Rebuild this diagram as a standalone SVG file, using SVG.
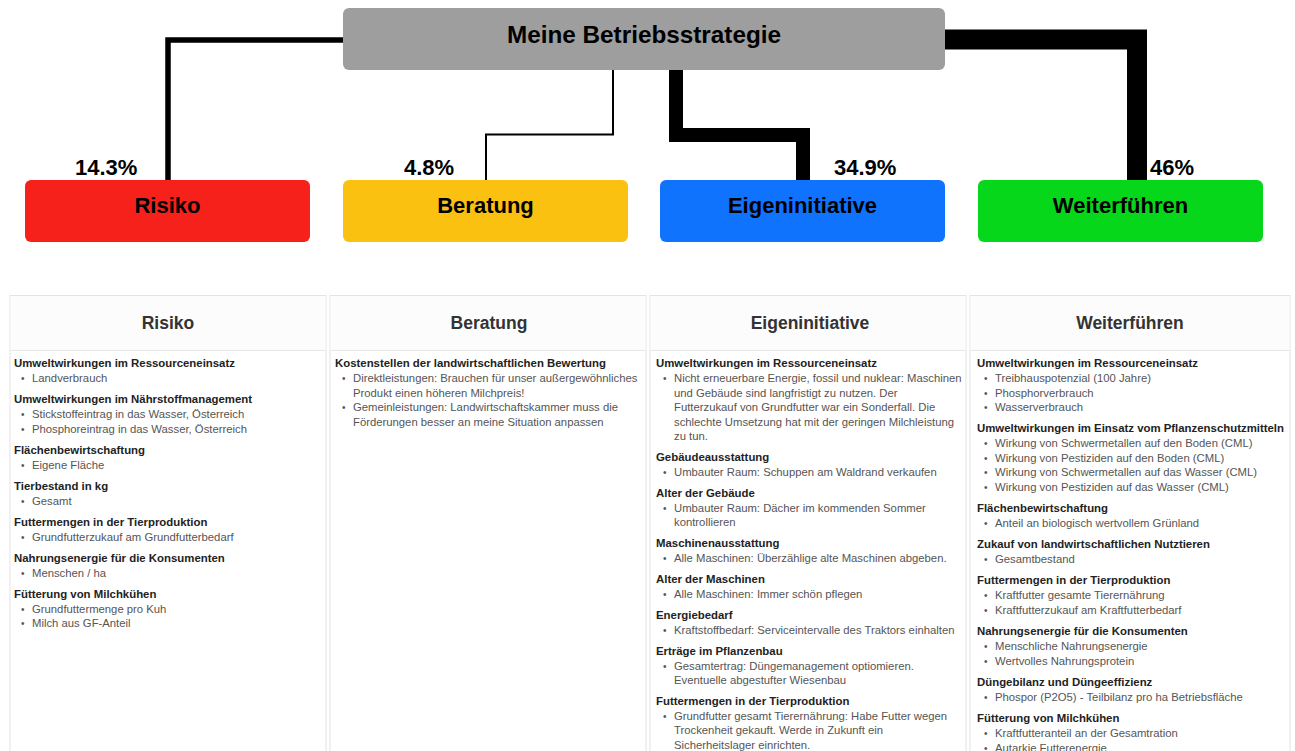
<svg xmlns="http://www.w3.org/2000/svg" width="1295" height="751" viewBox="0 0 1295 751">
<style>
text{font-family:"Liberation Sans",Arial,sans-serif}
.nodeT{font-size:22px;font-weight:bold;fill:#000;text-anchor:middle}
.rootT{font-size:24.3px;font-weight:bold;fill:#000;text-anchor:middle}
.pct{font-size:22px;font-weight:bold;fill:#000}
.card{fill:#fff;stroke:#e3e3e3;stroke-width:1}
.hdrbg{fill:#fcfcfc}
.sep{stroke:#e8e8e8;stroke-width:1}
.hdr{font-size:17.5px;font-weight:bold;fill:#333;text-anchor:middle}
.t{font-size:11.4px;font-weight:bold;fill:#222}
.b{font-size:11.3px;fill:#555}
.dot{font-size:10px;fill:#555}
.conn{fill:none;stroke:#000;stroke-linejoin:miter;stroke-linecap:butt}
</style>

<g id="connectors">
<polyline class="conn" stroke-width="5.5" points="343,40 168,40 168,180"/>
<polyline class="conn" stroke-width="2" points="613,70 613,134.5 486,134.5 486,180"/>
<polyline class="conn" stroke-width="14" points="676,70 676,135 803,135 803,180"/>
<polyline class="conn" stroke-width="20" points="945,39.5 1137,39.5 1137,180"/>
</g>

<g id="root">
<rect x="343" y="8" width="602" height="62" rx="6" fill="#9e9e9e"/>
<text class="rootT" x="644" y="43">Meine Betriebsstrategie</text>
</g>

<g id="risiko">
<rect x="25" y="180" width="285" height="62" rx="6" fill="#f5211a"/>
<text class="nodeT" x="167.5" y="213">Risiko</text>
<text class="pct" x="75" y="175">14.3%</text>
</g>
<g id="beratung">
<rect x="343" y="180" width="285" height="62" rx="6" fill="#fbc111"/>
<text class="nodeT" x="485.5" y="213">Beratung</text>
<text class="pct" x="404" y="175">4.8%</text>
</g>
<g id="eigeninitiative">
<rect x="660" y="180" width="285" height="62" rx="6" fill="#0f73fe"/>
<text class="nodeT" x="802.5" y="213">Eigeninitiative</text>
<text class="pct" x="834" y="175">34.9%</text>
</g>
<g id="weiterfuehren">
<rect x="978" y="180" width="285" height="62" rx="6" fill="#07d71b"/>
<text class="nodeT" x="1120.5" y="213">Weiterführen</text>
<text class="pct" x="1150" y="175">46%</text>
</g>

<g id="card-risiko">
<rect class="card" x="10" y="295.5" width="316" height="470"/>
<rect class="hdrbg" x="10.5" y="296" width="315" height="54"/>
<line class="sep" x1="10" y1="350.5" x2="326" y2="350.5"/>
<text class="hdr" x="168" y="329">Risiko</text>
<text class="t" x="14" y="367">Umweltwirkungen im Ressourceneinsatz</text>
<text class="dot" x="21" y="382">•</text><text class="b" x="32" y="382">Landverbrauch</text>
<text class="t" x="14" y="403">Umweltwirkungen im Nährstoffmanagement</text>
<text class="dot" x="21" y="418">•</text><text class="b" x="32" y="418">Stickstoffeintrag in das Wasser, Österreich</text>
<text class="dot" x="21" y="432.5">•</text><text class="b" x="32" y="432.5">Phosphoreintrag in das Wasser, Österreich</text>
<text class="t" x="14" y="453.5">Flächenbewirtschaftung</text>
<text class="dot" x="21" y="469">•</text><text class="b" x="32" y="469">Eigene Fläche</text>
<text class="t" x="14" y="489.5">Tierbestand in kg</text>
<text class="dot" x="21" y="505">•</text><text class="b" x="32" y="505">Gesamt</text>
<text class="t" x="14" y="525.5">Futtermengen in der Tierproduktion</text>
<text class="dot" x="21" y="541">•</text><text class="b" x="32" y="541">Grundfutterzukauf am Grundfutterbedarf</text>
<text class="t" x="14" y="561.5">Nahrungsenergie für die Konsumenten</text>
<text class="dot" x="21" y="577">•</text><text class="b" x="32" y="577">Menschen / ha</text>
<text class="t" x="14" y="597.5">Fütterung von Milchkühen</text>
<text class="dot" x="21" y="612.5">•</text><text class="b" x="32" y="612.5">Grundfuttermenge pro Kuh</text>
<text class="dot" x="21" y="627">•</text><text class="b" x="32" y="627">Milch aus GF-Anteil</text>
</g>

<g id="card-beratung">
<rect class="card" x="330" y="295.5" width="316" height="470"/>
<rect class="hdrbg" x="330.5" y="296" width="315" height="54"/>
<line class="sep" x1="330" y1="350.5" x2="646" y2="350.5"/>
<text class="hdr" x="489" y="329">Beratung</text>
<text class="t" x="335" y="367">Kostenstellen der landwirtschaftlichen Bewertung</text>
<text class="dot" x="342" y="382">•</text><text class="b" x="353" y="382">Direktleistungen: Brauchen für unser außergewöhnliches</text>
<text class="b" x="353" y="396.5">Produkt einen höheren Milchpreis!</text>
<text class="dot" x="342" y="411">•</text><text class="b" x="353" y="411">Gemeinleistungen: Landwirtschaftskammer muss die</text>
<text class="b" x="353" y="425.5">Förderungen besser an meine Situation anpassen</text>
</g>

<g id="card-eigeninitiative">
<rect class="card" x="650" y="295.5" width="316" height="470"/>
<rect class="hdrbg" x="650.5" y="296" width="315" height="54"/>
<line class="sep" x1="650" y1="350.5" x2="966" y2="350.5"/>
<text class="hdr" x="810" y="329">Eigeninitiative</text>
<text class="t" x="656" y="367">Umweltwirkungen im Ressourceneinsatz</text>
<text class="dot" x="663" y="382">•</text><text class="b" x="674" y="382">Nicht erneuerbare Energie, fossil und nuklear: Maschinen</text>
<text class="b" x="674" y="396.5">und Gebäude sind langfristigt zu nutzen. Der</text>
<text class="b" x="674" y="411">Futterzukauf von Grundfutter war ein Sonderfall. Die</text>
<text class="b" x="674" y="425.5">schlechte Umsetzung hat mit der geringen Milchleistung</text>
<text class="b" x="674" y="440">zu tun.</text>
<text class="t" x="656" y="460.5">Gebäudeausstattung</text>
<text class="dot" x="663" y="475.5">•</text><text class="b" x="674" y="475.5">Umbauter Raum: Schuppen am Waldrand verkaufen</text>
<text class="t" x="656" y="496.5">Alter der Gebäude</text>
<text class="dot" x="663" y="511.5">•</text><text class="b" x="674" y="511.5">Umbauter Raum: Dächer im kommenden Sommer</text>
<text class="b" x="674" y="526">kontrollieren</text>
<text class="t" x="656" y="546.5">Maschinenausstattung</text>
<text class="dot" x="663" y="561.5">•</text><text class="b" x="674" y="561.5">Alle Maschinen: Überzählige alte Maschinen abgeben.</text>
<text class="t" x="656" y="582.5">Alter der Maschinen</text>
<text class="dot" x="663" y="597.5">•</text><text class="b" x="674" y="597.5">Alle Maschinen: Immer schön pflegen</text>
<text class="t" x="656" y="618.5">Energiebedarf</text>
<text class="dot" x="663" y="633.5">•</text><text class="b" x="674" y="633.5">Kraftstoffbedarf: Serviceintervalle des Traktors einhalten</text>
<text class="t" x="656" y="654.5">Erträge im Pflanzenbau</text>
<text class="dot" x="663" y="669.5">•</text><text class="b" x="674" y="669.5">Gesamtertrag: Düngemanagement optiomieren.</text>
<text class="b" x="674" y="684">Eventuelle abgestufter Wiesenbau</text>
<text class="t" x="656" y="704.5">Futtermengen in der Tierproduktion</text>
<text class="dot" x="663" y="719.5">•</text><text class="b" x="674" y="719.5">Grundfutter gesamt Tierernährung: Habe Futter wegen</text>
<text class="b" x="674" y="734">Trockenheit gekauft. Werde in Zukunft ein</text>
<text class="b" x="674" y="748.5">Sicherheitslager einrichten.</text>
</g>

<g id="card-weiterfuehren">
<rect class="card" x="970" y="295.5" width="320" height="470"/>
<rect class="hdrbg" x="970.5" y="296" width="319" height="54"/>
<line class="sep" x1="970" y1="350.5" x2="1290" y2="350.5"/>
<text class="hdr" x="1130" y="329">Weiterführen</text>
<text class="t" x="977" y="367">Umweltwirkungen im Ressourceneinsatz</text>
<text class="dot" x="984" y="382">•</text><text class="b" x="995" y="382">Treibhauspotenzial (100 Jahre)</text>
<text class="dot" x="984" y="396.5">•</text><text class="b" x="995" y="396.5">Phosphorverbrauch</text>
<text class="dot" x="984" y="411">•</text><text class="b" x="995" y="411">Wasserverbrauch</text>
<text class="t" x="977" y="432">Umweltwirkungen im Einsatz vom Pflanzenschutzmitteln</text>
<text class="dot" x="984" y="447">•</text><text class="b" x="995" y="447">Wirkung von Schwermetallen auf den Boden (CML)</text>
<text class="dot" x="984" y="461.5">•</text><text class="b" x="995" y="461.5">Wirkung von Pestiziden auf den Boden (CML)</text>
<text class="dot" x="984" y="476">•</text><text class="b" x="995" y="476">Wirkung von Schwermetallen auf das Wasser (CML)</text>
<text class="dot" x="984" y="490.5">•</text><text class="b" x="995" y="490.5">Wirkung von Pestiziden auf das Wasser (CML)</text>
<text class="t" x="977" y="512">Flächenbewirtschaftung</text>
<text class="dot" x="984" y="527">•</text><text class="b" x="995" y="527">Anteil an biologisch wertvollem Grünland</text>
<text class="t" x="977" y="548">Zukauf von landwirtschaftlichen Nutztieren</text>
<text class="dot" x="984" y="563">•</text><text class="b" x="995" y="563">Gesamtbestand</text>
<text class="t" x="977" y="584">Futtermengen in der Tierproduktion</text>
<text class="dot" x="984" y="599">•</text><text class="b" x="995" y="599">Kraftfutter gesamte Tierernährung</text>
<text class="dot" x="984" y="613.5">•</text><text class="b" x="995" y="613.5">Kraftfutterzukauf am Kraftfutterbedarf</text>
<text class="t" x="977" y="635">Nahrungsenergie für die Konsumenten</text>
<text class="dot" x="984" y="650">•</text><text class="b" x="995" y="650">Menschliche Nahrungsenergie</text>
<text class="dot" x="984" y="664.5">•</text><text class="b" x="995" y="664.5">Wertvolles Nahrungsprotein</text>
<text class="t" x="977" y="686">Düngebilanz und Düngeeffizienz</text>
<text class="dot" x="984" y="701">•</text><text class="b" x="995" y="701">Phospor (P2O5) - Teilbilanz pro ha Betriebsfläche</text>
<text class="t" x="977" y="722">Fütterung von Milchkühen</text>
<text class="dot" x="984" y="737">•</text><text class="b" x="995" y="737">Kraftfutteranteil an der Gesamtration</text>
<text class="dot" x="984" y="751.5">•</text><text class="b" x="995" y="751.5">Autarkie Futterenergie</text>
</g>
</svg>
